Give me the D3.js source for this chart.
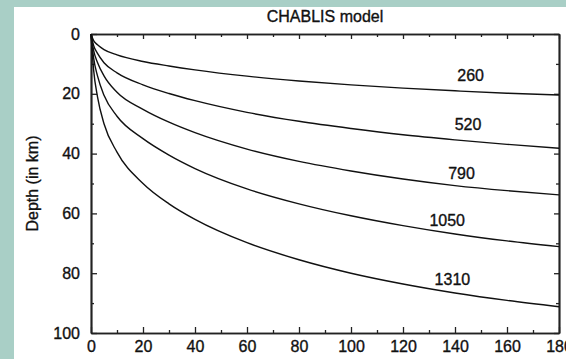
<!doctype html>
<html lang="en">
<head>
  <meta charset="UTF-8">
  <title>CHABLIS model</title>
  <script src="https://d3js.org/d3.v7.min.js" charset="utf-8"></script>
  <style>
    body { margin: 0; background: #a9cfc6; }
    svg { display: block; }
    text { font-family: "Liberation Sans", Arial, sans-serif; fill: #111; stroke: #111; stroke-width: 0.35; }
  </style>
</head>
<body>
  <script>

    // distance (x) and depth of each curve
    var distance = [0, 1, 2.5, 5, 10, 20, 30, 40, 60, 80, 100, 120, 140, 160, 180];
    var depth260  = [0, 2.2, 3.6, 5.2, 7.0, 9.2, 10.7, 12.0, 14.1, 15.7, 17.0, 18.1, 19.0, 19.8, 20.4];
    var depth520  = [0, 3.8, 6.5, 9.6, 13.0, 17.0, 19.9, 22.3, 26.2, 29.2, 31.6, 33.7, 35.4, 36.9, 38.2];
    var depth790  = [0, 5.5, 9.5, 14.0, 19.5, 25.2, 29.5, 33.0, 38.5, 42.6, 45.8, 48.5, 50.7, 52.4, 53.8];
    var depth1050 = [0, 8, 14, 20.5, 27.5, 35.0, 40.5, 45.0, 51.8, 56.8, 60.8, 64.1, 66.9, 69.2, 71.1];
    var depth1310 = [0, 12, 21, 30, 39.5, 50.0, 56.8, 62.0, 69.8, 75.5, 80.0, 83.6, 86.6, 89.1, 91.2];

    var curveNames = ["260", "520", "790", "1050", "1310"];
    var labelX = [146, 145, 142.5, 137, 139];
    var labelY = [14, 30.4, 46.5, 62.2, 82];

    var xTicks = [0, 20, 40, 60, 80, 100, 120, 140, 160, 180];
    var yTicks = [0, 20, 40, 60, 80, 100];

    var series = [depth260, depth520, depth790, depth1050, depth1310];

    var width = 566, height = 359;
    var pLeft = 91, pRight = 559, pTop = 34, pBottom = 333;

    var svg = d3.select("body").append("svg")
      .attr("width", width)
      .attr("height", height);

    // white paper area
    svg.append("rect")
      .attr("x", 14).attr("y", 7)
      .attr("width", width - 14).attr("height", height - 7)
      .attr("fill", "#fff");

    var x = d3.scaleLinear().domain([0, 180]).range([pLeft, pRight]);
    var y = d3.scaleLinear().domain([0, 100]).range([pTop, pBottom]);

    var minorX = d3.range(10, 180, 20);
    var minorY = d3.range(10, 100, 20);

    function styleAxis (g) {
      g.select(".domain").attr("stroke", "#222").attr("stroke-width", 1.7);
      g.selectAll(".tick line").attr("stroke", "#222").attr("stroke-width", 1.3);
      g.selectAll(".tick text")
        .attr("font-size", 16)
        .attr("font-family", "'Liberation Sans', Arial, sans-serif")
        .attr("fill", "#111");
    }

    // bottom
    svg.append("g").attr("transform", "translate(0," + pBottom + ")")
      .call(d3.axisBottom(x).tickValues(xTicks).tickSize(-6).tickSizeOuter(0).tickPadding(8))
      .call(styleAxis);
    svg.append("g").attr("transform", "translate(0," + pBottom + ")")
      .call(d3.axisBottom(x).tickValues(minorX).tickSize(-3).tickSizeOuter(0).tickFormat(""))
      .call(styleAxis);

    // top
    svg.append("g").attr("transform", "translate(0," + pTop + ")")
      .call(d3.axisTop(x).tickValues(xTicks).tickSize(-5).tickSizeOuter(0).tickFormat(""))
      .call(styleAxis);
    svg.append("g").attr("transform", "translate(0," + pTop + ")")
      .call(d3.axisTop(x).tickValues(minorX).tickSize(-3).tickSizeOuter(0).tickFormat(""))
      .call(styleAxis);

    // left
    svg.append("g").attr("transform", "translate(" + pLeft + ",0)")
      .call(d3.axisLeft(y).tickValues(yTicks).tickSize(-6).tickSizeOuter(0).tickPadding(11))
      .call(styleAxis);
    svg.append("g").attr("transform", "translate(" + pLeft + ",0)")
      .call(d3.axisLeft(y).tickValues(minorY).tickSize(-3).tickSizeOuter(0).tickFormat(""))
      .call(styleAxis);

    // right
    svg.append("g").attr("transform", "translate(" + pRight + ",0)")
      .call(d3.axisRight(y).tickValues(yTicks).tickSize(-5).tickSizeOuter(0).tickFormat(""))
      .call(styleAxis);
    svg.append("g").attr("transform", "translate(" + pRight + ",0)")
      .call(d3.axisRight(y).tickValues(minorY).tickSize(-3).tickSizeOuter(0).tickFormat(""))
      .call(styleAxis);

    var line = d3.line()
      .x(function(d, i) { return x(distance[i]); })
      .y(function(d) { return y(d); })
      .curve(d3.curveMonotoneX);

    svg.selectAll("path.curve")
      .data(series)
      .enter()
      .append("path")
      .attr("class", "curve")
      .attr("d", line)
      .attr("fill", "none")
      .attr("stroke", "#111")
      .attr("stroke-width", 1.4);

    svg.selectAll("text.clabel")
      .data(curveNames)
      .enter()
      .append("text")
      .attr("class", "clabel")
      .attr("x", function(d, i) { return x(labelX[i]); })
      .attr("y", function(d, i) { return y(labelY[i]); })
      .attr("dy", "0.35em")
      .attr("text-anchor", "middle")
      .attr("font-size", 16)
      .text(function(d) { return d; });

    svg.append("text")
      .attr("x", (pLeft + pRight) / 2)
      .attr("y", 22)
      .attr("text-anchor", "middle")
      .attr("font-size", 16)
      .text("CHABLIS model");

    svg.append("text")
      .attr("transform", "translate(38," + (pTop + pBottom) / 2 + ") rotate(-90)")
      .attr("text-anchor", "middle")
      .attr("font-size", 16)
      .text("Depth (in km)");

  </script>
</body>
</html>
